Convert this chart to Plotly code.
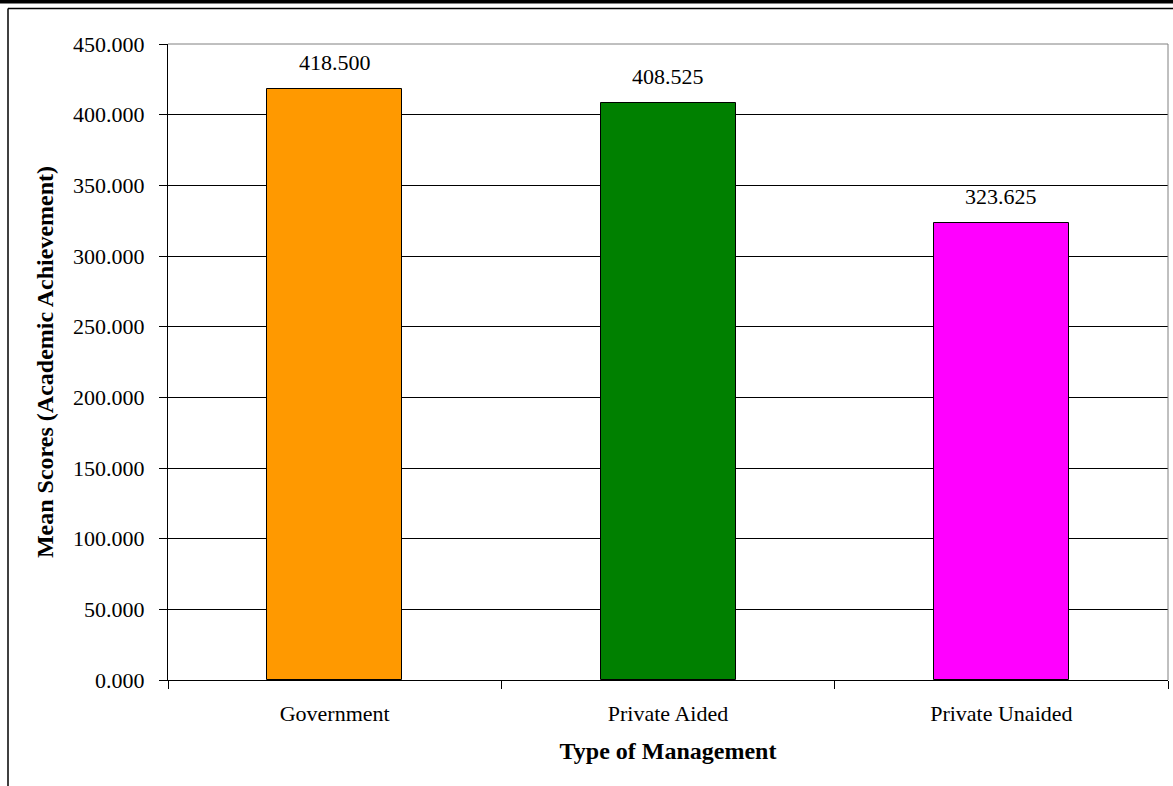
import plotly.graph_objects as go

categories = ["Government", "Private Aided", "Private Unaided"]
mean_scores = [418.500, 408.525, 323.625]
bar_colors = ["#FF9900", "#008000", "#FF00FF"]
y_ticks = [0, 50, 100, 150, 200, 250, 300, 350, 400, 450]

FONT = "Liberation Serif, Times New Roman, serif"
FS = 22
TFS = 24

fig = go.Figure()
fig.add_trace(go.Bar(
    x=categories,
    y=mean_scores,
    marker=dict(color=bar_colors, line=dict(color="black", width=1)),
    width=0.405,
))

for c, v in zip(categories, mean_scores):
    fig.add_annotation(x=c, y=v, text=f"{v:.3f}", showarrow=False,
                       yanchor="bottom", yshift=12,
                       font=dict(family=FONT, size=FS, color="black"))

fig.update_layout(
    width=1173, height=786,
    margin=dict(l=168, r=5, t=44, b=106),
    paper_bgcolor="white", plot_bgcolor="white",
    showlegend=False,
    font=dict(family=FONT, size=FS, color="black"),
    bargap=0,
    xaxis=dict(
        type="category",
        tickson="boundaries",
        ticks="outside", ticklen=8, tickcolor="black", tickwidth=1,
        showline=True, linecolor="black", linewidth=1,
        showgrid=False,
        tickfont=dict(family=FONT, size=FS),
        ticklabelstandoff=14,
        title=dict(text="<b>Type of Management</b>", font=dict(family=FONT, size=TFS), standoff=16),
    ),
    yaxis=dict(
        range=[0, 450],
        tickvals=y_ticks,
        tickformat=".3f",
        ticks="outside", ticklen=8, tickcolor="black", tickwidth=1,
        showline=True, linecolor="black", linewidth=1,
        showgrid=True, gridcolor="black", gridwidth=1,
        zeroline=False,
        tickfont=dict(family=FONT, size=FS),
        ticklabelstandoff=10,
        title=dict(text="<b>Mean Scores (Academic Achievement)</b>", font=dict(family=FONT, size=TFS), standoff=12),
    ),
)

# plot area gray border (top and right)
fig.add_shape(type="line", xref="paper", yref="paper", x0=0, x1=1, y0=1, y1=1,
              line=dict(color="#808080", width=1))
fig.add_shape(type="line", xref="paper", yref="paper", x0=1, x1=1, y0=0, y1=1,
              line=dict(color="#808080", width=1))

# outer frame lines (in pixel-equivalent paper coords)
W, H = 1173, 786
pw, ph = W - 168 - 5, H - 44 - 106
def px_x(x):
    return (x - 168) / pw
def px_y(y):
    return (H - 106 - y) / ph

fig.add_shape(type="line", xref="paper", yref="paper",
              x0=px_x(0), x1=px_x(W), y0=px_y(1.5), y1=px_y(1.5),
              line=dict(color="black", width=4), layer="above")
fig.add_shape(type="line", xref="paper", yref="paper",
              x0=px_x(8), x1=px_x(W), y0=px_y(8.5), y1=px_y(8.5),
              line=dict(color="black", width=1.5), layer="above")
fig.add_shape(type="line", xref="paper", yref="paper",
              x0=px_x(8), x1=px_x(8), y0=px_y(8.5), y1=px_y(H),
              line=dict(color="black", width=1.5), layer="above")

fig.write_html("out.html")
